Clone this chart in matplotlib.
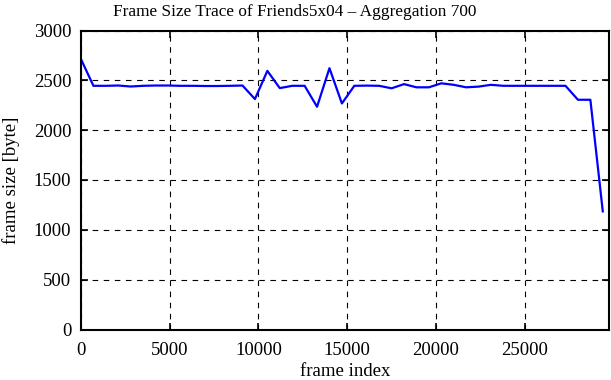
import matplotlib
matplotlib.use("Agg")
import matplotlib.pyplot as plt

# frame index (aggregation of 700 frames) and mean frame size
agg = 700
frame_size = [
    2712, 2445, 2445, 2448, 2438, 2445, 2448, 2448, 2445, 2445,
    2443, 2443, 2445, 2448, 2312, 2595, 2422, 2445, 2445, 2235,
    2622, 2268, 2445, 2447, 2445, 2420, 2462, 2430, 2430, 2470,
    2455, 2430, 2437, 2455, 2445, 2445, 2445, 2445, 2445, 2445,
    2305, 2305, 1185,
]
frame_index = [agg * i for i in range(len(frame_size))]

x_ticks = [0, 5000, 10000, 15000, 20000, 25000]
y_ticks = [0, 500, 1000, 1500, 2000, 2500, 3000]

plt.rcParams["font.family"] = ["Liberation Serif", "DejaVu Serif"]

fig = plt.figure(figsize=(6.11, 3.80), dpi=100)
ax = fig.add_axes([81 / 611, 1 - 329.5 / 380, (609 - 81) / 611, (329.5 - 30.5) / 380])

ax.plot(frame_index, frame_size, color="#0000ff", lw=1.6)

ax.set_xlim(0, 29750)
ax.set_ylim(0, 3000)
ax.set_xticks(x_ticks)
ax.set_yticks(y_ticks)
ax.grid(True, color="black", ls=(0, (5, 5)), lw=0.8)
ax.tick_params(direction="in", length=5, width=1.2, top=True, right=True,
               labelsize=13.5)
ax.tick_params(axis="x", pad=9)
ax.tick_params(axis="y", pad=7)
for s in ax.spines.values():
    s.set_linewidth(1.5)

ax.set_xlabel("frame index", fontsize=13.5, labelpad=3)
ax.set_ylabel("frame size [byte]", fontsize=13.5, labelpad=10)
fig.text(294.5 / 611, 1 - 12 / 380, "Frame Size Trace of Friends5x04 \u2013 Aggregation 700",
         fontsize=12.4, ha="center", va="center")

fig.savefig("out.png", dpi=100)
